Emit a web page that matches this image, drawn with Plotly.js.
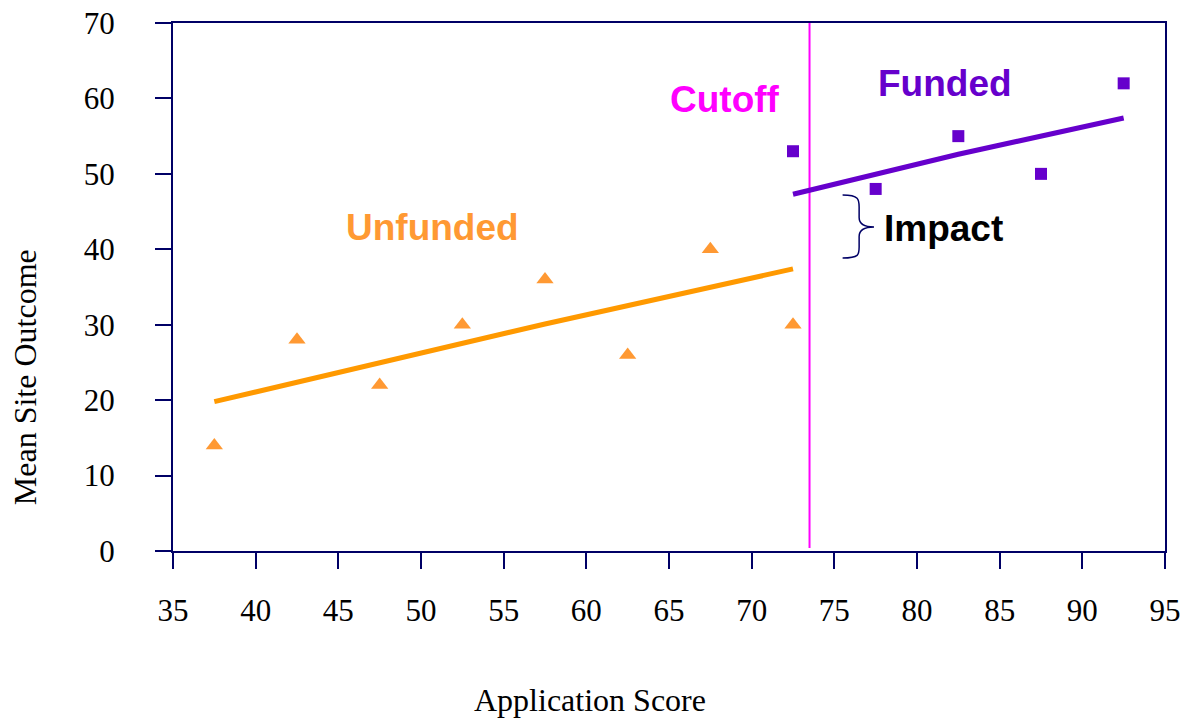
<!DOCTYPE html>
<html>
<head>
<meta charset="utf-8">
<script src="https://cdn.plot.ly/plotly-3.0.1.min.js"></script>
<style>html,body{margin:0;padding:0;background:#fff;}#chart{width:1184px;height:719px;}</style>
</head>
<body>
<div id="chart"></div>
<script>
// Data
const unfundedScores = [37.5, 42.5, 47.5, 52.5, 57.5, 62.5, 67.5, 72.5];
const unfundedOutcomes = [14, 28, 22, 30, 36, 26, 40, 30];
const fundedScores = [72.5, 77.5, 82.5, 87.5, 92.5];
const fundedOutcomes = [53, 48, 55, 50, 62];
const unfundedFitX = [37.5, 57.5, 72.5];
const unfundedFitY = [19.8, 30.1, 37.4];
const fundedFitX = [72.5, 82.5, 92.5];
const fundedFitY = [47.3, 52.6, 57.4];
const cutoffScore = 73.5;
const cutoffSpan = [0.4, 70];
const xTicks = [35, 40, 45, 50, 55, 60, 65, 70, 75, 80, 85, 90, 95];
const yTicks = [0, 10, 20, 30, 40, 50, 60, 70];
const xTitle = 'Application Score';
const yTitle = 'Mean Site Outcome';

const axisColor = '#000066';
const serif = '"Liberation Serif", "Times New Roman", serif';
const sans = '"Liberation Sans", Arial, sans-serif';

const traces = [
  {x: [cutoffScore, cutoffScore], y: cutoffSpan, mode: 'lines',
   line: {color: '#FF00FF', width: 2}, hoverinfo: 'skip'},
  {x: unfundedFitX, y: unfundedFitY, mode: 'lines',
   line: {color: '#FF9900', width: 5}},
  {x: fundedFitX, y: fundedFitY, mode: 'lines',
   line: {color: '#6600CC', width: 5}},
  {x: unfundedScores, y: unfundedOutcomes, mode: 'markers',
   marker: {symbol: 'triangle-up', size: 15, color: '#FF9933'}},
  {x: fundedScores, y: fundedOutcomes, mode: 'markers',
   marker: {symbol: 'square', size: 12, color: '#6600CC'}}
];

const labelFont = (c) => ({family: sans, size: 37, color: c, weight: 'bold'});

const layout = {
  width: 1184, height: 719,
  margin: {l: 173, r: 19, t: 23, b: 168},
  paper_bgcolor: '#fff', plot_bgcolor: '#fff',
  showlegend: false,
  xaxis: {
    range: [35, 95], tickvals: xTicks, ticktext: xTicks.map(String),
    showline: true, mirror: true, linecolor: axisColor, linewidth: 2,
    ticks: 'outside', ticklen: 16, tickwidth: 2, tickcolor: axisColor,
    showgrid: false, zeroline: false,
    tickfont: {family: serif, size: 31, color: '#000'},
    ticklabelstandoff: 15,
    automargin: false
  },
  yaxis: {
    range: [0, 70], tickvals: yTicks, ticktext: yTicks.map(String),
    showline: true, mirror: true, linecolor: axisColor, linewidth: 2,
    ticks: 'outside', ticklen: 16, tickwidth: 2, tickcolor: axisColor,
    showgrid: false, zeroline: false,
    tickfont: {family: serif, size: 31, color: '#000'},
    ticklabelstandoff: 34,
    automargin: false
  },
  shapes: [
    {type: 'path', xref: 'x', yref: 'y',
     path: 'M 75.5,47.2 C 76.5,47.2 76.5,46.6 76.5,45.6 L 76.5,44.2 C 76.5,43.3 76.8,42.95 77.4,42.95 C 76.8,42.95 76.5,42.6 76.5,41.7 L 76.5,40.3 C 76.5,39.3 76.5,38.85 75.5,38.85',
     line: {color: axisColor, width: 1.5}}
  ],
  annotations: [
    {x: 68.4, y: 59.9, xref: 'x', yref: 'y', text: 'Cutoff', showarrow: false, font: labelFont('#FF00FF')},
    {x: 81.7, y: 62.0, xref: 'x', yref: 'y', text: 'Funded', showarrow: false, font: labelFont('#6600CC')},
    {x: 50.7, y: 42.95, xref: 'x', yref: 'y', text: 'Unfunded', showarrow: false, font: labelFont('#FF9933')},
    {x: 81.6, y: 42.8, xref: 'x', yref: 'y', text: 'Impact', showarrow: false, font: labelFont('#000000')},
    {x: 0.4204, y: -0.282, xref: 'paper', yref: 'paper', xanchor: 'center', yanchor: 'middle',
     text: xTitle, showarrow: false, font: {family: serif, size: 32, color: '#000'}},
    {x: -0.149, y: 0.3295, xref: 'paper', yref: 'paper', xanchor: 'center', yanchor: 'middle',
     text: yTitle, textangle: -90, showarrow: false, font: {family: serif, size: 32, color: '#000'}}
  ]
};

Plotly.newPlot('chart', traces, layout, {displayModeBar: false, staticPlot: true});
</script>
</body>
</html>
